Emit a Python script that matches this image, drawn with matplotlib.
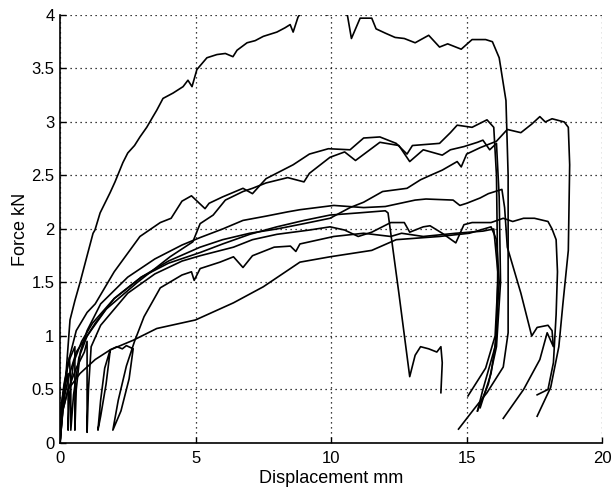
import matplotlib
matplotlib.use("Agg")
import matplotlib.pyplot as plt

plt.rcParams['font.family'] = ['Liberation Sans', 'DejaVu Sans']

# ---- data (displacement mm, force kN) ----
xA = [0, 0.18, 0.37, 0.55, 0.74, 1.0, 1.22, 1.29, 1.48, 1.85, 2.03, 2.32, 2.5, 2.75, 2.95, 3.2, 3.43, 3.57, 3.8, 4.17, 4.54, 4.72, 4.87, 5.05, 5.42, 5.79, 6.1, 6.38, 6.53, 6.9, 7.2, 7.5, 8.0, 8.3, 8.49, 8.6, 8.78, 9.1, 9.85, 10.2, 10.6, 10.75, 11.07, 11.5, 11.66, 12.0, 12.36, 12.7, 13.1, 13.6, 14.0, 14.3, 14.8, 15.2, 15.7, 15.95, 16.2, 16.45, 16.53, 16.53, 16.35, 15.75, 15.25, 14.7]
yA = [0, 0.5, 1.15, 1.33, 1.5, 1.75, 1.96, 1.99, 2.15, 2.34, 2.44, 2.62, 2.71, 2.78, 2.86, 2.95, 3.05, 3.11, 3.22, 3.27, 3.33, 3.39, 3.33, 3.49, 3.6, 3.63, 3.64, 3.61, 3.67, 3.74, 3.76, 3.8, 3.84, 3.88, 3.91, 3.84, 3.98, 4.1, 4.0, 4.03, 4.0, 3.78, 3.97, 3.97, 3.87, 3.83, 3.79, 3.78, 3.74, 3.81, 3.7, 3.73, 3.68, 3.77, 3.77, 3.75, 3.6, 3.2, 2.5, 1.03, 0.71, 0.47, 0.31, 0.13]

xB = [0, 0.05, 0.2, 0.35, 0.4, 0.4, 0.5, 0.7, 1.0, 1.3, 2.0, 3.0, 4.0, 5.17, 6.0, 7.0, 8.0, 9.0, 9.96, 10.7, 11.2, 11.9, 12.8, 13.3, 13.65, 14.1, 14.65, 14.8, 15.0, 15.5, 16.1, 16.5, 17.0, 17.4, 17.7, 17.9, 18.15, 18.6, 18.75, 18.8, 18.75, 18.55, 18.4, 18.1, 17.6]
yB = [0, 0.35, 0.6, 0.8, 0.5, 0.12, 0.45, 0.8, 1.0, 1.12, 1.35, 1.55, 1.7, 1.83, 1.9, 1.96, 2.0, 2.05, 2.1, 2.2, 2.25, 2.35, 2.38, 2.46, 2.5, 2.55, 2.63, 2.58, 2.7, 2.76, 2.82, 2.93, 2.9, 2.98, 3.05, 3.0, 3.03, 3.0, 2.95, 2.6, 1.8, 1.3, 0.9, 0.52, 0.25]

xC1 = [0, 0.1, 0.3, 0.6, 1.0, 1.3, 2.0, 2.95, 3.7, 4.1, 4.5, 4.85, 5.1, 5.35, 5.5, 6.0, 6.75, 7.1, 7.6, 8.6, 9.2, 9.9, 10.7, 11.2, 11.8, 12.4, 12.8, 13.0, 14.0, 14.4, 14.65, 15.2, 15.75, 16.0, 16.1, 16.15, 16.05, 15.7, 15.05]
yC1 = [0, 0.4, 0.75, 1.05, 1.22, 1.3, 1.6, 1.93, 2.06, 2.1, 2.26, 2.31, 2.25, 2.19, 2.24, 2.3, 2.38, 2.33, 2.47, 2.6, 2.7, 2.75, 2.74, 2.85, 2.86, 2.8, 2.7, 2.78, 2.8, 2.9, 2.97, 2.95, 3.02, 2.95, 2.5, 1.5, 1.0, 0.7, 0.44]

xC2 = [0, 0.1, 0.3, 0.6, 1.0, 1.7, 2.85, 4.06, 4.9, 5.17, 5.65, 6.1, 6.75, 7.1, 7.6, 8.4, 9.0, 9.2, 9.96, 10.5, 10.9, 11.8, 12.5, 12.9, 13.4, 14.1, 14.4, 14.9, 15.4, 15.6, 15.85, 16.1, 16.2, 16.25, 16.1, 15.8, 15.4]
yC2 = [0, 0.35, 0.6, 0.85, 1.0, 1.25, 1.5, 1.74, 1.88, 2.05, 2.13, 2.27, 2.35, 2.38, 2.43, 2.48, 2.44, 2.52, 2.67, 2.72, 2.64, 2.81, 2.78, 2.63, 2.74, 2.69, 2.74, 2.77, 2.81, 2.83, 2.74, 2.8, 2.3, 1.5, 0.9, 0.55, 0.3]

xE = [0, 0.05, 0.15, 0.3, 0.55, 0.55, 0.6, 0.75, 1.0, 1.5, 2.5, 3.5, 4.5, 5.17, 6.0, 6.75, 7.6, 8.4, 8.85, 10.1, 11.2, 12.0, 13.1, 13.5, 14.5, 14.75, 15.0, 15.5, 15.8, 16.05, 16.3, 16.4, 16.5, 17.0, 17.4, 17.6, 18.0, 18.15, 18.2, 17.97, 17.7, 17.1, 16.35]
yE = [0, 0.35, 0.55, 0.75, 0.9, 0.12, 0.5, 0.85, 1.05, 1.3, 1.55, 1.72, 1.85, 1.92, 2.0, 2.08, 2.12, 2.16, 2.18, 2.22, 2.2, 2.21, 2.27, 2.28, 2.27, 2.22, 2.24, 2.29, 2.33, 2.35, 2.37, 2.2, 1.83, 1.4, 1.0, 1.08, 1.1, 1.05, 0.9, 1.03, 0.78, 0.5, 0.23]

xF = [0, 0.1, 0.3, 0.6, 0.9, 1.0, 1.0, 1.05, 1.15, 1.5, 2.5, 3.5, 4.5, 5.17, 6.4, 7.1, 8.0, 9.2, 9.96, 10.5, 11.0, 11.5, 12.2, 12.7, 12.9, 13.4, 13.65, 14.1, 14.6, 14.9, 15.2, 15.9, 16.35, 16.7, 17.1, 17.5, 18.0, 18.15, 18.3, 18.35, 18.3, 18.2, 18.0, 17.6]
yF = [0, 0.3, 0.5, 0.7, 0.85, 0.95, 0.1, 0.5, 0.9, 1.1, 1.4, 1.58, 1.7, 1.75, 1.83, 1.9, 1.95, 1.99, 2.02, 1.99, 1.93, 1.97, 2.06, 2.06, 1.97, 2.02, 2.03, 1.96, 1.87, 2.04, 2.06, 2.06, 2.1, 2.07, 2.1, 2.1, 2.07, 2.0, 1.9, 1.6, 1.2, 0.75, 0.5, 0.45]

xG = [0, 0.05, 0.15, 0.3, 0.3, 0.35, 0.5, 0.8, 1.2, 2.0, 3.0, 4.0, 5.17, 6.0, 7.0, 8.0, 9.0, 9.96, 11.0, 12.0, 12.1, 12.5, 12.9, 13.0, 13.1, 13.3, 13.6, 13.9, 14.05, 14.1, 14.05]
yG = [0, 0.3, 0.5, 0.65, 0.12, 0.45, 0.75, 0.95, 1.12, 1.35, 1.55, 1.68, 1.78, 1.86, 1.95, 2.02, 2.08, 2.13, 2.15, 2.17, 2.15, 1.4, 0.62, 0.72, 0.82, 0.9, 0.88, 0.85, 0.9, 0.75, 0.47]

xD = [1.85, 1.7, 1.5, 1.4, 1.5, 1.65, 1.85, 2.1, 2.3, 2.45, 2.7, 2.55, 2.25, 1.95, 2.15, 2.45, 2.75, 3.1, 3.7, 4.5, 4.85, 4.95, 5.17, 5.9, 6.4, 6.75, 7.1, 7.9, 8.5, 8.7, 8.85, 10.1, 11.2, 12.2, 12.6, 13.4, 14.6, 15.1, 15.6, 16.0, 16.15, 16.1, 15.9, 15.5]
yD = [0.86, 0.55, 0.25, 0.12, 0.4, 0.7, 0.87, 0.9, 0.88, 0.91, 0.88, 0.6, 0.3, 0.12, 0.4, 0.72, 0.95, 1.18, 1.45, 1.57, 1.6, 1.52, 1.63, 1.69, 1.74, 1.64, 1.75, 1.83, 1.84, 1.79, 1.86, 1.93, 1.96, 1.93, 1.96, 1.93, 1.96, 1.97, 1.98, 2.0, 1.6, 1.0, 0.65, 0.33]

xH = [0, 0.1, 0.3, 0.74, 1.3, 1.85, 2.7, 3.57, 5.0, 6.4, 7.5, 8.85, 9.96, 11.5, 12.4, 14.0, 15.1, 15.9, 16.1, 16.2, 16.05, 15.6, 15.4]
yH = [0, 0.3, 0.5, 0.65, 0.78, 0.87, 0.96, 1.07, 1.15, 1.31, 1.46, 1.69, 1.74, 1.8, 1.9, 1.93, 1.96, 2.02, 1.9, 1.5, 0.9, 0.5, 0.3]

curves = [(xA, yA), (xB, yB), (xC1, yC1), (xC2, yC2), (xE, yE),
          (xF, yF), (xG, yG), (xD, yD), (xH, yH)]

x_ticks = [0, 5, 10, 15, 20]
y_ticks = [0, 0.5, 1, 1.5, 2, 2.5, 3, 3.5, 4]
y_tick_labels = ['0', '0.5', '1', '1.5', '2', '2.5', '3', '3.5', '4']

fig = plt.figure(figsize=(6.12, 4.92), dpi=100)
ax = fig.add_axes([0.098, 0.0996, 0.886, 0.87])

for xs, ys in curves:
    ax.plot(xs, ys, color='black', lw=1.2, solid_joinstyle='round')

ax.set_xlim(0, 20)
ax.set_ylim(0, 4)
ax.set_xticks(x_ticks)
ax.set_yticks(y_ticks)
ax.set_yticklabels(y_tick_labels)
ax.tick_params(direction='in', length=4, labelsize=12, width=1, pad=4)
ax.tick_params(axis='x', pad=6)
ax.grid(True, color='black', linestyle=(0, (1, 3)), lw=0.9)
for s in ['top', 'right']:
    ax.spines[s].set_visible(False)
for s in ['left', 'bottom']:
    ax.spines[s].set_linewidth(1.2)
ax.set_xlabel('Displacement mm', fontsize=13, labelpad=3)
ax.set_ylabel('Force kN', fontsize=13, labelpad=2)

fig.savefig('out.png', dpi=100)
